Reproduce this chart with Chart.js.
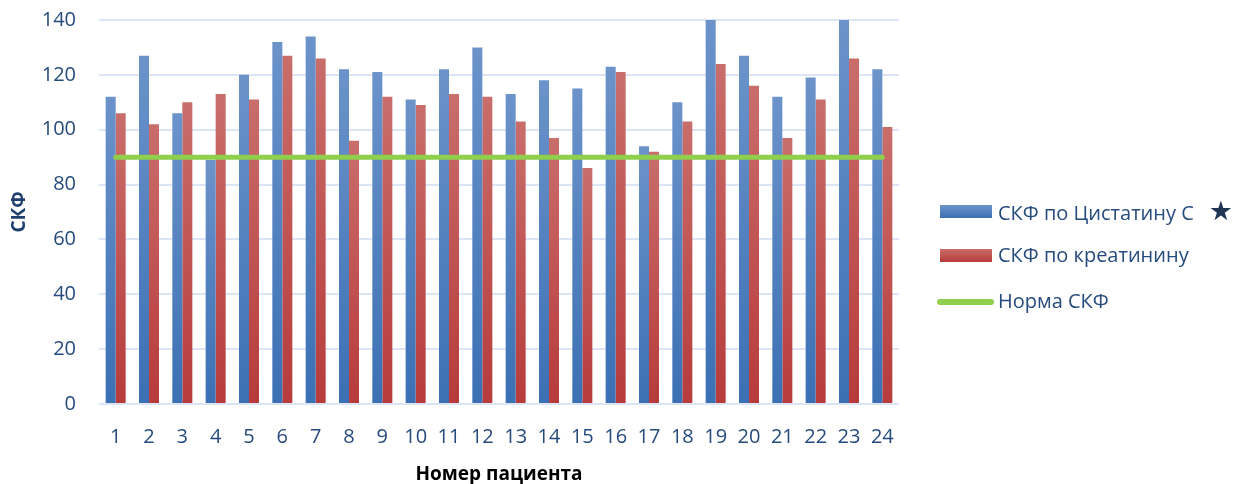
<!DOCTYPE html>
<html>
<head>
<meta charset="utf-8">
<script src="https://cdn.jsdelivr.net/npm/chart.js@4.4.1/dist/chart.umd.min.js"></script>
<style>
    html, body { margin: 0; padding: 0; background: #fff; }
    #wrap { position: relative; width: 1246px; height: 484px; }
    #legend { position: absolute; left: 937px; top: 0; font-family: "Open Sans", sans-serif; font-size: 20px; color: #264b7d; }
    .item { position: absolute; left: 0; white-space: nowrap; height: 24px; line-height: 24px; }
    .sw { position: absolute; left: 3px; top: 5px; width: 52px; height: 13px; }
    .ln { position: absolute; left: 0; top: 9px; width: 57px; height: 6px; border-radius: 3px; }
    .txt { position: absolute; left: 61px; top: -1px; }
    .star { font-family: "DejaVu Sans", sans-serif; font-size: 27px; color: #1f3552; margin-left: 15px; }
</style>
</head>
<body>
<div id="wrap">
    <canvas id="chart" width="1246" height="484"></canvas>
    <div id="legend"></div>
</div>
<script>
    // Patients and GFR values
    const patients = ['1', '2', '3', '4', '5', '6', '7', '8', '9', '10', '11', '12',
                      '13', '14', '15', '16', '17', '18', '19', '20', '21', '22', '23', '24'];
    const cystatinGfr = [112, 127, 106, 89, 120, 132, 134, 122, 121, 111, 122, 130,
                         113, 118, 115, 123, 94, 110, 140, 127, 112, 119, 140, 122];
    const creatinineGfr = [106, 102, 110, 113, 111, 127, 126, 96, 112, 109, 113, 112,
                           103, 97, 86, 121, 92, 103, 124, 116, 97, 111, 126, 101];
    const normGfr = patients.map(() => 90);
    const yTicks = [0, 20, 40, 60, 80, 100, 120, 140];

    const tickColor = '#264b7d';
    const gridColor = '#dbe5f5';

    // vertical gradient per bar, light at the top and darker at the base
    function barGradient(top, bottom) {
        return function (context) {
            const chart = context.chart;
            const yScale = chart.scales.y;
            if (!chart.chartArea || !yScale || context.raw == null) return bottom;
            const y0 = yScale.getPixelForValue(Math.min(context.raw, 140));
            const y1 = yScale.getPixelForValue(0);
            if (!isFinite(y0) || !isFinite(y1) || y0 === y1) return bottom;
            const g = chart.ctx.createLinearGradient(0, y0, 0, y1);
            g.addColorStop(0, top);
            g.addColorStop(1, bottom);
            return g;
        };
    }

    const ctx = document.getElementById('chart').getContext('2d');
    const chart = new Chart(ctx, {
        type: 'bar',
        data: {
            labels: patients,
            datasets: [
                {
                    label: 'СКФ по Цистатину С',
                    data: cystatinGfr,
                    backgroundColor: barGradient('#6c93ca', '#3b70b4'),
                    swatch: 'linear-gradient(#6c93ca, #3b70b4)',
                    star: true,
                    order: 1
                },
                {
                    label: 'СКФ по креатинину',
                    data: creatinineGfr,
                    backgroundColor: barGradient('#c96e6b', '#b73b3b'),
                    swatch: 'linear-gradient(#c96e6b, #b73b3b)',
                    order: 1
                },
                {
                    type: 'line',
                    label: 'Норма СКФ',
                    data: normGfr,
                    borderColor: '#8fcf4d',
                    borderWidth: 5,
                    borderCapStyle: 'round',
                    pointRadius: 0,
                    order: 0
                }
            ]
        },
        options: {
            responsive: false,
            animation: false,
            datasets: {
                bar: {
                    barPercentage: 1,
                    categoryPercentage: 0.6
                }
            },
            layout: {
                padding: { top: 20, right: 347, left: 0, bottom: 0 }
            },
            scales: {
                x: {
                    grid: { display: false },
                    border: { display: false },
                    ticks: {
                        color: tickColor,
                        padding: 13,
                        maxRotation: 0,
                        font: { family: 'Open Sans', size: 20 }
                    },
                    title: {
                        display: true,
                        text: 'Номер пациента',
                        color: '#000',
                        padding: { top: 8, bottom: 0 },
                        font: { family: 'Open Sans', size: 19, weight: 'bold', lineHeight: 1.0 }
                    },
                    afterFit: function (scale) { scale.height = 80; }
                },
                y: {
                    min: 0,
                    max: 140,
                    afterBuildTicks: function (scale) {
                        scale.ticks = yTicks.map(v => ({ value: v }));
                    },
                    grid: {
                        color: gridColor,
                        lineWidth: 2,
                        drawTicks: true,
                        tickLength: 15,
                        tickColor: 'rgba(0,0,0,0)'
                    },
                    border: { display: false },
                    ticks: {
                        color: tickColor,
                        padding: 8,
                        font: { family: 'Open Sans', size: 20 }
                    },
                    title: {
                        display: true,
                        text: 'СКФ',
                        color: '#1f3f6e',
                        padding: { top: 8, bottom: 0 },
                        font: { family: 'Open Sans', size: 19, weight: 'bold' }
                    },
                    afterFit: function (scale) { scale.width = 99; }
                }
            },
            plugins: {
                legend: { display: false },
                tooltip: { enabled: false }
            }
        }
    });

    // HTML legend built from the datasets
    const legendDiv = document.getElementById('legend');
    const legendTops = [200, 244, 290];
    chart.data.datasets.forEach((ds, i) => {
        const item = document.createElement('div');
        item.className = 'item';
        item.style.top = legendTops[i] + 'px';
        const mark = document.createElement('span');
        if (ds.type === 'line') {
            mark.className = 'ln';
            mark.style.background = ds.borderColor;
        } else {
            mark.className = 'sw';
            mark.style.background = ds.swatch;
        }
        const txt = document.createElement('span');
        txt.className = 'txt';
        txt.textContent = ds.label;
        if (ds.star) {
            const star = document.createElement('span');
            star.className = 'star';
            star.textContent = '★';
            txt.appendChild(star);
        }
        item.appendChild(mark);
        item.appendChild(txt);
        legendDiv.appendChild(item);
    });
</script>
</body>
</html>
